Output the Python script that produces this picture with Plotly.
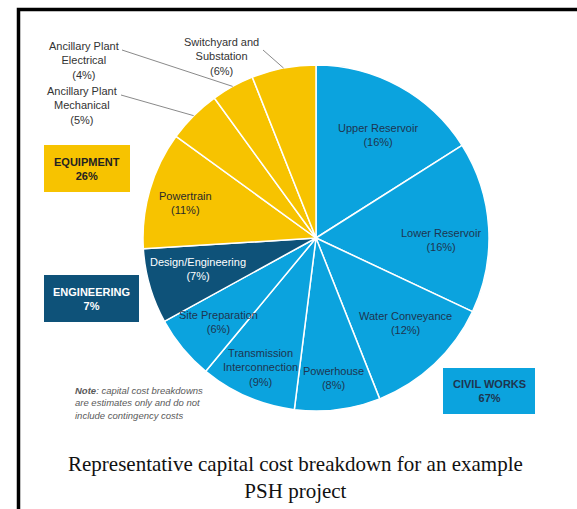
import math
import plotly.graph_objects as go

# ---------------- data ----------------
slice_labels = ["Upper Reservoir", "Lower Reservoir", "Water Conveyance", "Powerhouse",
                "Transmission Interconnection", "Site Preparation", "Design/Engineering",
                "Powertrain", "Ancillary Plant Mechanical", "Ancillary Plant Electrical",
                "Switchyard and Substation"]
slice_values = [16, 16, 12, 8, 9, 6, 7, 11, 5, 4, 6]
slice_groups = ["CIVIL WORKS"] * 6 + ["ENGINEERING"] + ["EQUIPMENT"] * 4
group_names = ["EQUIPMENT", "ENGINEERING", "CIVIL WORKS"]
caption = "Representative capital cost breakdown for an example<br>PSH project"
note = "<b><i>Note</i></b><i>: capital cost breakdowns<br>are estimates only and do not<br>include contingency costs</i>"

# ---------------- style ----------------
W, H = 577, 509
BLUE, YELLOW, NAVY = "#0BA3DE", "#F7C300", "#0E5279"
group_color = {"CIVIL WORKS": BLUE, "ENGINEERING": NAVY, "EQUIPMENT": YELLOW}
TXT_DARK = "#1E3550"
FONT = "Liberation Sans, Arial, sans-serif"
CX, CY, R = 316, 238, 173  # pie centre/radius in pixels


def px(x):
    return x / W


def py(y):
    return 1 - y / H


def text_ann(x, y, text, size, color, family=FONT, xanchor="center", align="center"):
    return dict(x=px(x), y=py(y), xref="paper", yref="paper", showarrow=False,
                xanchor=xanchor, yanchor="middle", text=text, align=align,
                font=dict(family=family, size=size, color=color))


fig = go.Figure()
fig.add_trace(go.Pie(
    labels=slice_labels, values=slice_values, sort=False, direction="clockwise",
    rotation=0, textinfo="none", hoverinfo="label+percent",
    marker=dict(colors=[group_color[g] for g in slice_groups], line=dict(color="white", width=1.5)),
    domain=dict(x=[px(CX - R), px(CX + R)], y=[py(CY + R), py(CY - R)]),
    showlegend=False,
))

ann = []
shapes = []

# inside labels: (text position in pixels, colour)
inside_pos = {
    "Upper Reservoir": (378, 135, TXT_DARK),
    "Lower Reservoir": (441, 239.5, TXT_DARK),
    "Water Conveyance": (405, 323, TXT_DARK),
    "Powerhouse": (333, 377.5, TXT_DARK),
    "Transmission Interconnection": (260, 367, TXT_DARK),
    "Site Preparation": (218, 321.5, TXT_DARK),
    "Design/Engineering": (198, 268.5, "white"),
    "Powertrain": (185, 203, "#2a2a2a"),
}
inside_text = {
    "Transmission Interconnection": "Transmission<br>Interconnection",
}
outside_pos = {
    "Ancillary Plant Electrical": (84, 60, "Ancillary Plant<br>Electrical", (122, 50)),
    "Ancillary Plant Mechanical": (82, 105.5, "Ancillary Plant<br>Mechanical", (121, 95)),
    "Switchyard and Substation": (222, 56.5, "Switchyard and<br>Substation", (263, 50)),
}

total = sum(slice_values)
cum = 0
for lab, val in zip(slice_labels, slice_values):
    mid = (cum + val / 2) / total * 2 * math.pi
    cum += val
    if lab in inside_pos:
        x, y, col = inside_pos[lab]
        name = inside_text.get(lab, lab)
        ann.append(text_ann(x, y, f"{name}<br>({val}%)", 11, col))
    else:
        x, y, name, (lx, ly) = outside_pos[lab]
        ann.append(text_ann(x, y, f"{name}<br>({val}%)", 11, "#333333"))
        ex = CX + R * math.sin(mid)
        ey = CY - R * math.cos(mid)
        shapes.append(dict(type="line", xref="paper", yref="paper",
                           x0=px(lx), y0=py(ly), x1=px(ex), y1=py(ey),
                           line=dict(color="#8a8a8a", width=1)))

# group boxes
box_pos = {
    "EQUIPMENT": (44, 145, 130, 192, "#222222"),
    "ENGINEERING": (44, 275, 139, 322, "white"),
    "CIVIL WORKS": (443, 368, 535, 414, TXT_DARK),
}
for g in group_names:
    tot = sum(v for v, gg in zip(slice_values, slice_groups) if gg == g)
    x0, y0, x1, y1, col = box_pos[g]
    shapes.append(dict(type="rect", xref="paper", yref="paper",
                       x0=px(x0), y0=py(y1), x1=px(x1), y1=py(y0),
                       fillcolor=group_color[g], line=dict(width=0), layer="below"))
    ann.append(text_ann((x0 + x1) / 2, (y0 + y1) / 2, f"<b>{g}<br>{tot}%</b>", 11, col))

# note
ann.append(text_ann(73, 403, note, 9.5, "#5a5a5a", xanchor="left", align="left"))
# caption
ann.append(text_ann(295, 477, caption, 21, "#111111",
                    family="Liberation Serif, Times New Roman, serif"))

# frame
shapes.append(dict(type="rect", xref="paper", yref="paper",
                   x0=px(18.5), y0=py(530), x1=px(600), y1=py(9.5),
                   line=dict(color="black", width=3.5)))

fig.update_layout(width=W, height=H, margin=dict(l=0, r=0, t=0, b=0),
                  paper_bgcolor="white", plot_bgcolor="white",
                  annotations=ann, shapes=shapes)
fig.write_html("out.html")
